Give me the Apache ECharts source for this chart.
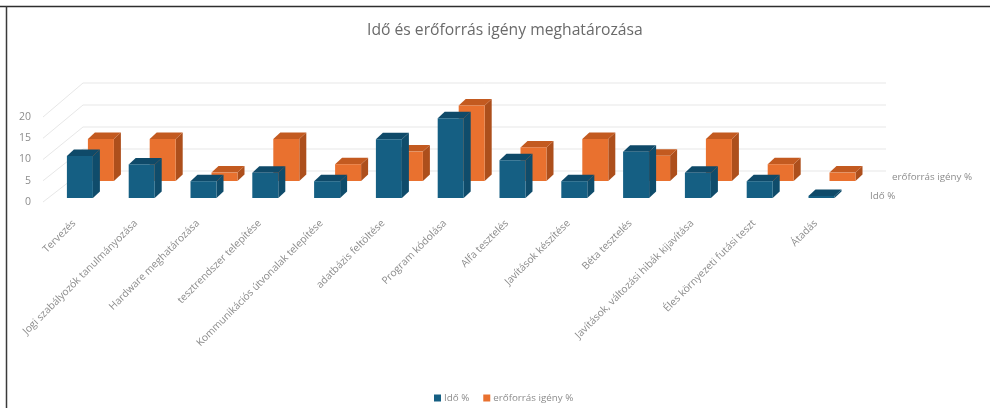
<!DOCTYPE html>
<html>
<head>
<meta charset="utf-8">
<style>html,body{margin:0;padding:0;background:#fff}#chart{width:990px;height:408px}</style>
<script src="https://cdn.jsdelivr.net/npm/echarts@6/dist/echarts.min.js"></script>
</head>
<body>
<div id="chart"></div>
<script>
// Project phases and their share of time and resources, in percent
const chartTitle = 'Idő és erőforrás igény meghatározása';
const categories = [
  'Tervezés', 'Jogi szabályozók tanulmányozása', 'Hardware meghatározása',
  'tesztrendszer telepítése', 'Kommunikációs útvonalak telepítése', 'adatbázis feltöltése',
  'Program kódolása', 'Alfa tesztelés', 'Javítások készítése', 'Béta tesztelés',
  'Javítások, változási hibák kijavítása', 'Éles környezeti futási teszt', 'Átadás'
];
const timeName = 'Idő %';
const resourceName = 'erőforrás igény %';
const timeValues = [10, 8, 4, 6, 4, 14, 19, 9, 4, 11, 6, 4, 0.5];
const resourceValues = [10, 10, 2, 10, 4, 7, 18, 8, 10, 6, 10, 4, 2];
const valueTicks = [0, 5, 10, 15, 20];

const palette = {
  time: { front: '#155f83', top: '#0f4a69', side: '#0f4c6b' },
  resource: { front: '#e9712f', top: '#c35a20', side: '#ad4f1c' }
};
const textColor = '#8c8c8c';
const gridColor = '#e7e7e7';
const uiFont = '"Open Sans", Lato, sans-serif';

// Oblique projection: every bar has a front face plus a receding side and top
function barRenderer(colors, rowDx, rowDy) {
  const halfWidth = 13, depthX = 7, depthY = 6.5;
  return function (params, api) {
    const base = api.coord([api.value(0), 0]);
    const head = api.coord([api.value(0), api.value(1)]);
    const x0 = base[0] - halfWidth + rowDx, x1 = base[0] + halfWidth + rowDx;
    const yb = base[1] + rowDy, yt = head[1] + rowDy;
    return {
      type: 'group',
      children: [
        { type: 'polygon', shape: { points: [[x1, yb], [x1 + depthX, yb - depthY], [x1 + depthX, yt - depthY], [x1, yt]] }, style: { fill: colors.side } },
        { type: 'polygon', shape: { points: [[x0, yt], [x0 + depthX, yt - depthY], [x1 + depthX, yt - depthY], [x1, yt]] }, style: { fill: colors.top } },
        { type: 'rect', shape: { x: x0, y: yt, width: x1 - x0, height: yb - yt }, style: { fill: colors.front } }
      ]
    };
  };
}

// Side wall diagonal joined to the back wall line for one value tick
function wallRenderer(params, api) {
  const v = api.value(1);
  const p = api.coord([0, v]);
  const end = api.coord([1, v]);
  const backY = p[1] - (31 + 3 * v / 20);
  return {
    type: 'polyline',
    shape: { points: [[p[0], p[1]], [p[0] + 40, backY], [end[0], backY]] },
    style: { stroke: gridColor, lineWidth: 1, fill: 'none' }
  };
}

const chart = echarts.init(document.getElementById('chart'), null, { renderer: 'canvas' });
chart.setOption({
  backgroundColor: '#ffffff',
  animation: false,
  title: {
    text: chartTitle, left: 362, top: 18,
    textStyle: { color: '#6a6a6a', fontSize: 15.7, fontWeight: 'normal', fontFamily: uiFont }
  },
  legend: {
    data: [timeName, resourceName], left: 429, top: 388, icon: 'rect',
    itemWidth: 7, itemHeight: 7, itemGap: 14,
    textStyle: { color: textColor, fontSize: 9.8, fontFamily: uiFont, padding: [0, 0, 0, -2] }
  },
  grid: [
    { left: 49, width: 803.4, top: 114, height: 84 },
    { left: 43, width: 843, top: 117, height: 85 }
  ],
  xAxis: [
    {
      type: 'category', gridIndex: 0, data: categories,
      axisLine: { show: false }, axisTick: { show: false },
      axisLabel: { rotate: 45, interval: 0, margin: 18, padding: [0, 8, 0, 0], color: textColor, fontSize: 10.2, fontFamily: uiFont }
    },
    { type: 'value', gridIndex: 1, min: 0, max: 1, show: false }
  ],
  yAxis: [
    { type: 'value', gridIndex: 0, min: 0, max: 20, show: false },
    {
      type: 'value', gridIndex: 1, min: 0, max: 20, interval: 5,
      axisLine: { show: false }, axisTick: { show: false }, splitLine: { show: false },
      axisLabel: { margin: 12, color: textColor, fontSize: 10.5, fontFamily: uiFont }
    }
  ],
  series: [
    {
      type: 'custom', name: 'wall', xAxisIndex: 1, yAxisIndex: 1, silent: true, z: 1, clip: false,
      data: valueTicks.map(v => [0, v]), renderItem: wallRenderer
    },
    {
      type: 'custom', name: resourceName, xAxisIndex: 0, yAxisIndex: 0, z: 2, clip: false,
      itemStyle: { color: palette.resource.front },
      data: resourceValues.map((v, i) => [i, v]),
      encode: { x: 0, y: 1 },
      renderItem: barRenderer(palette.resource, 21, -17)
    },
    {
      type: 'custom', name: timeName, xAxisIndex: 0, yAxisIndex: 0, z: 3, clip: false,
      itemStyle: { color: palette.time.front },
      data: timeValues.map((v, i) => [i, v]),
      encode: { x: 0, y: 1 },
      renderItem: barRenderer(palette.time, 0, 0)
    }
  ],
  graphic: [
    { type: 'line', shape: { x1: 0, y1: 6.5, x2: 990, y2: 6.5 }, style: { stroke: '#2e2e2e', lineWidth: 1.5 }, silent: true },
    { type: 'line', shape: { x1: 6.5, y1: 6, x2: 6.5, y2: 408 }, style: { stroke: '#3a3a3a', lineWidth: 1.5 }, silent: true },
    { type: 'text', left: 870, top: 191, silent: true, style: { text: timeName, fill: textColor, fontSize: 9.8, fontFamily: uiFont } },
    { type: 'text', left: 892, top: 172, silent: true, style: { text: resourceName, fill: textColor, fontSize: 9.8, fontFamily: uiFont } }
  ]
});
</script>
</body>
</html>
